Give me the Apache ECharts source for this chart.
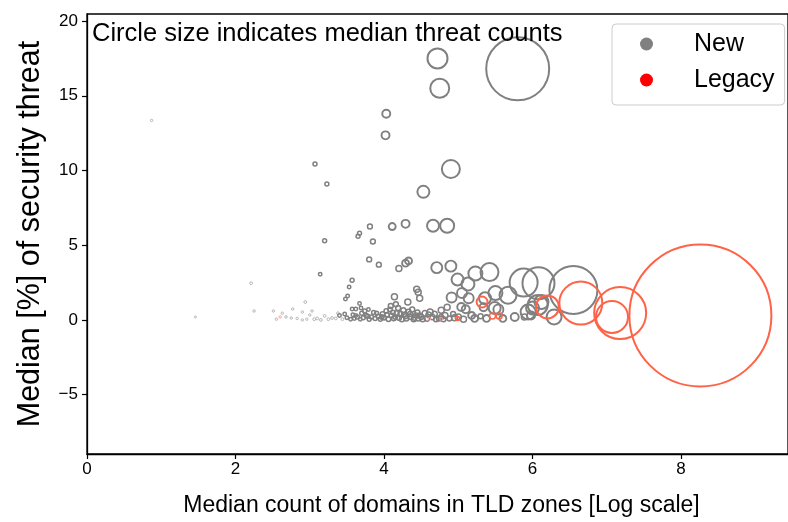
<!DOCTYPE html>
<html><head><meta charset="utf-8">
<script src="https://cdn.jsdelivr.net/npm/echarts@6/dist/echarts.min.js"></script>
<style>html,body{margin:0;padding:0;background:#fff}#c{width:788px;height:522px}</style>
</head><body><div id="c"></div>
<script>
// [x (log domain count), y (median % threat), median threat count]
const newData = [
[0.87,13.35,1.5],[3.07,10.43,4],[3.23,9.1,4],[3.2,5.3,4],[3.14,3.06,3],[2.21,2.46,2],
[4.72,17.5,100],[4.75,15.5,90],[4.03,13.8,16],[4.02,12.35,16],[4.9,10.1,81],[4.53,8.57,36],
[5.8,16.8,992],[3.81,6.25,6],[4.11,6.25,12],[4.29,6.43,16],[4.66,6.3,36],[4.85,6.3,49],
[3.67,5.8,4],[3.65,5.6,4],[3.85,5.25,6],[3.8,4.05,6],[3.93,3.7,6],[4.2,3.45,9],[4.29,3.8,12],
[4.33,3.95,12],[4.71,3.5,30],[4.9,3.6,30],[3.57,2.66,4],[3.53,2.2,3],[3.51,1.6,3],[3.48,1.4,3],
[2.94,1.2,2],[3.67,1.1,3],[3.57,0.73,3],[3.62,0.73,3],[3.69,0.8,3],[3.79,0.7,3],[4.14,1.55,9],
[4.16,1.05,6],[4.09,0.93,6],[4.32,1.2,9],[4.44,2.05,9],[4.46,1.85,9],[4.48,1.45,9],[4.62,0.53,9],
[4.77,0.65,9],[4.85,0.85,9],[4.91,1.5,25],[4.99,2.7,36],[5.13,2.4,42],[5.05,1.8,25],[5.14,1.45,25],
[5.04,0.87,16],[5.1,0.72,16],[4.93,0.4,6],[4.77,0.2,6],[5.23,3.1,49],[5.42,3.2,81],[5.5,1.8,49],
[5.67,1.65,72],[5.34,0.85,16],[5.49,0.8,36],[5.54,0.7,25],[5.3,0.25,6],[5.76,0.2,16],
[5.88,2.5,196],[6.08,2.45,256],[6.55,2.0,576],[6.07,1.0,100],[6.29,0.2,56],[5.94,0.53,56],
[5.89,0.2,9],[6.0,0.8,42],[5.36,1.45,36],[5.98,0.3,16],[6.12,1.2,49],
[1.46,0.2,1],[2.25,0.6,1.5],[2.51,0.6,1.5],[2.63,0.45,1.5],[2.55,0.05,1.5],[2.68,0.2,1.5],
[2.75,0.13,1.5],[2.77,0.73,1.5],[2.83,0.1,1.5],[2.9,0.53,1.5],[2.9,0.0,1.5],[2.96,0.05,1.5],
[3.0,0.33,1.5],[3.03,0.6,1.5],[3.06,0.05,2],[3.1,0.1,2],[3.15,0.0,2],[3.2,0.27,2],[3.25,0.05,2],
[3.3,0.13,2],[3.38,0.45,2],
[3.35,0.1,2],[3.4,0.3,3],[3.44,0.05,2],[3.47,0.4,3],[3.5,0.15,3],[3.55,0.05,3],[3.58,0.35,3],
[3.6,0.1,3],[3.64,0.2,4],[3.68,0.05,3],[3.7,0.45,4],[3.72,0.15,4],[3.76,0.3,4],[3.8,0.05,4],
[3.83,0.2,4],[3.86,0.5,4],[3.88,0.1,4],[3.92,0.25,4],[3.95,0.05,4],[3.98,0.4,5],[4.0,0.15,5],
[4.03,0.6,5],[4.06,0.05,5],[4.1,0.3,5],[4.13,0.1,5],[4.17,0.45,6],[4.2,0.15,6],[4.24,0.05,6],
[4.27,0.35,6],[4.3,0.1,6],[4.33,0.55,6],[4.36,0.2,6],[4.4,0.05,6],[4.43,0.3,6],[4.46,0.1,6],
[4.5,0.2,6],[4.55,0.45,7.5],[4.58,0.1,7.5],[4.65,0.2,7.5],[4.7,0.05,6],[4.82,0.3,9],[4.88,0.1,6],
[5.0,0.2,9],[5.07,0.05,9],[5.18,0.3,12],[5.22,0.1,12],[5.38,0.1,12],[5.6,0.1,12],
[3.62,0.3,3],[3.74,0.6,4],[3.78,0.25,4],[3.9,0.45,4],[3.97,0.2,5],[4.04,0.35,5],[4.08,0.7,5],
[4.12,0.5,5],[4.15,0.2,5],[4.19,0.8,6],[4.22,0.4,6],[4.26,0.65,6],[4.29,0.25,6],[4.35,0.4,6],
[4.38,0.7,6],[4.41,0.15,6],[4.45,0.5,6],[4.48,0.3,6],[4.52,0.05,6],[4.6,0.35,7.5],[4.68,0.4,7.5],
[4.74,0.1,6],[4.8,0.05,6],[4.95,0.15,9]
];
const legacyData = [
[8.26,0.3,5041],[7.18,0.46,676],[7.07,0.2,256],[6.65,1.13,462],[6.2,0.87,132],[5.32,1.2,30],
[5.46,0.27,9],[5.55,0.27,9],[4.99,0.1,4],[4.77,0.07,2],[4.61,0.07,2],[2.6,0.2,1.5]
];
const xTicks = [0,2,4,6,8];
const yTicks = [-5,0,5,10,15,20];
const seriesNames = ['New','Legacy'];

const GRAY = '#808080', RED = '#ff6347';
function build(arr, color, light) {
  return arr.map(p => {
    const s = 2*Math.sqrt(p[2]);
    let bw = 2, bc = color;
    if (s < 3.2) { bw = 0.9; bc = light; }
    else if (s < 6.5) { bw = 1.5; }
    else if (s < 12) { bw = 1.9; }
    return { value: [p[0], p[1], p[2]], symbolSize: s, itemStyle: { color: 'rgba(0,0,0,0)', borderColor: bc, borderWidth: bw, opacity: 1 } };
  });
}
const FONT = 'Liberation Sans, Arial, sans-serif';
const chart = echarts.init(document.getElementById('c'));
chart.setOption({
  animation: false,
  backgroundColor: '#fff',
  grid: { left: 87, right: -3, top: 14, bottom: 66, show: true, borderColor: '#000', borderWidth: 1.3, backgroundColor: 'transparent' },
  graphic: [{ type: 'text', left: 92, top: 21, z: 10,
    style: { text: 'Circle size indicates median threat counts', font: '25.5px ' + FONT, fill: '#000' } }],
  legend: {
    orient: 'vertical', left: 612, top: 24, padding: [5, 10, 10, 28],
    borderColor: '#cccccc', borderWidth: 1, borderRadius: 4, backgroundColor: 'rgba(255,255,255,0.8)',
    itemWidth: 13, itemHeight: 13, itemGap: 6,
    textStyle: { fontSize: 25, fontFamily: FONT, color: '#000', lineHeight: 30, padding: [0, 0, 0, 36] },
    data: [
      { name: seriesNames[0], icon: 'circle', itemStyle: { color: GRAY, borderWidth: 0, opacity: 1 } },
      { name: seriesNames[1], icon: 'circle', itemStyle: { color: '#ff0000', borderWidth: 0, opacity: 1 } }
    ]
  },
  xAxis: {
    type: 'value', min: 0, max: 9.44,
    name: 'Median count of domains in TLD zones [Log scale]', nameLocation: 'middle', nameGap: 40,
    nameTextStyle: { fontSize: 23, fontFamily: FONT, color: '#000', padding: [0, 0, 0, 8] },
    axisLine: { show: true, onZero: false, lineStyle: { color: '#000', width: 1.3 } },
    axisTick: { show: true, length: 5, lineStyle: { color: '#000', width: 1.2 }, customValues: xTicks },
    axisLabel: { fontSize: 17, fontFamily: FONT, color: '#000', margin: 7, customValues: xTicks },
    splitLine: { show: false }
  },
  yAxis: {
    type: 'value', min: -8.97, max: 20.47,
    name: 'Median [%] of security threat', nameLocation: 'middle', nameGap: 41,
    nameTextStyle: { fontSize: 30.5, fontFamily: FONT, color: '#000' },
    axisLine: { show: true, onZero: false, lineStyle: { color: '#000', width: 1.3 } },
    axisTick: { show: true, length: 5, lineStyle: { color: '#000', width: 1.2 }, customValues: yTicks },
    axisLabel: { fontSize: 17, fontFamily: FONT, color: '#000', margin: 9, customValues: yTicks,
      formatter: v => String(v).replace('-', '\u2212') },
    splitLine: { show: false }
  },
  series: [
    { name: seriesNames[0], type: 'scatter', data: build(newData, GRAY, '#b0b0b0'), itemStyle: { color: GRAY, opacity: 1 } },
    { name: seriesNames[1], type: 'scatter', data: build(legacyData, RED, '#ffa090'), itemStyle: { color: RED, opacity: 1 } }
  ]
});
</script></body></html>
